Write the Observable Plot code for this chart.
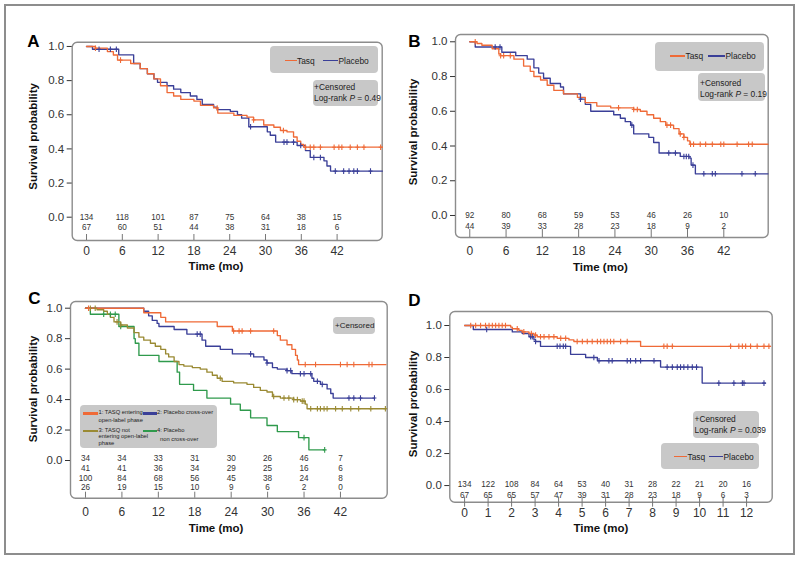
<!DOCTYPE html>
<html><head><meta charset="utf-8">
<script src="https://cdn.jsdelivr.net/npm/d3@7"></script>
<script src="https://cdn.jsdelivr.net/npm/@observablehq/plot@0.6"></script>
<style>
body{margin:0;background:#fff;font-family:"Liberation Sans",Arial,sans-serif;}
#wrap{position:relative;width:800px;height:562px;overflow:hidden;background:#fff;}
.outer{position:absolute;left:4px;top:4px;width:787px;height:547px;border:2px solid #8d8d8d;}
.box{position:absolute;background:#c8c8c8;border-radius:4px;}
.lt{position:absolute;color:#222;white-space:nowrap;}
.sw{position:absolute;}
svg{position:absolute;overflow:visible;}
</style></head><body><div id="wrap"><div class="outer"></div></div>
<script>
// ---------- shared ticks ----------
const monthTicks = [0, 6, 12, 18, 24, 30, 36, 42];
const monthTicksD = [0, 1, 2, 3, 4, 5, 6, 7, 8, 9, 10, 11, 12];
const yTicks = [0, 0.2, 0.4, 0.6, 0.8, 1.0];

// ---------- colours ----------
const cTasq = "#ef6a37", cPlac = "#3a3f98", cOlive = "#9a8a33", cGreen = "#2f9a4c";

// ---------- Panel A (time, survival) ----------
const aTasq = [[0,1],[1.5,0.99],[3.5,0.97],[4.5,0.95],[5.2,0.92],[7.4,0.9],[9,0.87],[10.2,0.84],[11.3,0.81],[12.4,0.77],[13.5,0.73],[14.6,0.71],[15.8,0.69],[18,0.68],[19.1,0.655],[21.3,0.64],[22,0.61],[24.7,0.596],[26.9,0.586],[28,0.57],[29.7,0.54],[31.4,0.527],[32.5,0.508],[33.6,0.5],[34.7,0.47],[35.3,0.445],[35.9,0.426],[36.4,0.41],[49.6,0.41]];
const aTasqCens = [1.5,5.7,21.9,28,33,36.7,37.5,38.1,39.2,41.5,42.3,42.8,44.2,45.4,46.5,49.3];
const aPlac = [[0,1],[1,0.984],[5.4,0.951],[7.9,0.9],[9,0.87],[10.2,0.84],[11.3,0.81],[11.9,0.79],[13.5,0.77],[14.6,0.75],[15.8,0.73],[17.4,0.71],[18.5,0.69],[19.4,0.66],[21.3,0.645],[21.9,0.63],[24.1,0.62],[25.3,0.6],[26,0.58],[27.2,0.53],[30.3,0.5],[30.8,0.48],[31.7,0.44],[35.3,0.42],[36.7,0.39],[37.5,0.35],[39.8,0.33],[40.3,0.3],[40.9,0.27],[49.6,0.27]];
const aPlacCens = [2.1,4,5,27.5,33.1,33.6,34.7,35.9,38.1,39.2,41.7,43.1,44,44.8,45.4,47.6];
const aRiskTasq = [134,118,101,87,75,64,38,15];
const aRiskPlac = [67,60,51,44,38,31,18,6];

// ---------- Panel B ----------
const bTasq = [[0,1],[1.2,0.99],[2,0.98],[3.7,0.96],[4.8,0.93],[5.1,0.92],[7.3,0.9],[8.9,0.86],[10,0.83],[10.6,0.8],[11.7,0.78],[12.8,0.75],[13.9,0.72],[15.5,0.7],[17.8,0.68],[19.1,0.65],[21,0.63],[23.3,0.62],[27.1,0.61],[28.2,0.6],[29.3,0.58],[30.4,0.56],[31.5,0.54],[32.4,0.52],[33.7,0.5],[34.6,0.47],[35.4,0.45],[36,0.43],[36.4,0.41],[49.3,0.41]];
const bTasqCens = [0.9,5.1,5.6,6.7,24.6,27.1,27.7,32.6,33.2,34.8,35.4,36.5,37,38.1,39,40.1,41.5,42,44.2,46.1,46.7];
const bPlac = [[0,1],[0.9,0.97],[5.3,0.94],[7.6,0.92],[9.5,0.9],[10.6,0.85],[11.4,0.82],[12.2,0.79],[13.3,0.76],[15,0.74],[15.5,0.7],[18.3,0.67],[19.1,0.64],[20,0.6],[23.8,0.58],[24.9,0.56],[25.7,0.54],[26.6,0.52],[27.1,0.47],[29.6,0.45],[30.4,0.42],[31.3,0.36],[34.8,0.34],[36.4,0.33],[36.6,0.29],[37.3,0.24],[49.3,0.24]];
const bPlacCens = [4.2,5,18.3,26.8,32.9,34,35.4,35.8,36.2,36.9,38.7,40.1,40.6,45,47.2];
const bRiskTasq = [92,80,68,59,53,46,26,10];
const bRiskPlac = [44,39,33,28,23,18,9,2];

// ---------- Panel C ----------
const c1 = [[0,1],[9.6,0.97],[12.4,0.94],[13.2,0.91],[21.7,0.88],[24.2,0.85],[31.6,0.82],[32.1,0.79],[33.2,0.76],[34,0.73],[34.6,0.69],[34.9,0.66],[35.1,0.63],[49.5,0.63]];
const c1Cens = [0.5,24.4,25.3,25.8,27.2,31,36.2,37.9,42,43.1,44.2,46.7,47.2];
const c2 = [[0,1],[9.6,0.98],[10.4,0.95],[11,0.92],[11.8,0.9],[12.1,0.88],[14.6,0.86],[16.7,0.83],[19.2,0.79],[19.8,0.75],[22.2,0.73],[24.2,0.7],[27.7,0.68],[29.4,0.66],[29.9,0.64],[30.8,0.61],[31.6,0.6],[33.2,0.59],[34,0.57],[37.3,0.54],[37.6,0.52],[38.7,0.5],[39.8,0.47],[40.4,0.44],[40.8,0.41],[47.6,0.41]];
const c2Cens = [18.4,18.9,27.2,29.9,33.2,33.8,35.4,36,37.1,38.2,39,43.4,44.2,45.3,47.6];
const c3 = [[0,1],[1.9,0.99],[3,0.98],[3.6,0.96],[4.1,0.94],[4.7,0.91],[5.8,0.89],[6.9,0.87],[8,0.84],[8.8,0.81],[9.6,0.79],[10.7,0.77],[11.5,0.75],[12.4,0.73],[13.2,0.7],[13.7,0.68],[14.6,0.65],[15.4,0.63],[16.2,0.62],[17.6,0.61],[18.9,0.6],[20,0.58],[20.9,0.56],[21.7,0.54],[22.5,0.52],[24.4,0.51],[26.6,0.5],[27.7,0.48],[28.8,0.46],[29.9,0.45],[30.8,0.42],[32.1,0.41],[34.3,0.4],[35.4,0.39],[36.2,0.37],[36.5,0.34],[49.5,0.34]];
const c3Cens = [0.8,1.6,5.2,5.8,22.2,31,32.7,33.5,34.3,34.9,35.7,36,37.1,38.2,38.7,39.3,39.8,41.2,42.3,43.7,45,47,49.4];
const c4 = [[0,1],[0.8,0.96],[5.5,0.88],[8,0.8],[8.2,0.77],[8.8,0.69],[12.1,0.65],[15.1,0.58],[15.5,0.5],[17.8,0.46],[20,0.41],[23.9,0.37],[25.5,0.33],[27.2,0.28],[29.9,0.23],[31.6,0.19],[35.1,0.15],[36.8,0.07],[39.4,0.07]];
const c4Cens = [3,4.1,4.9,5.8,36,39.4];
const cRisk1 = [34,34,33,31,30,26,46,7];
const cRisk2 = [41,41,36,34,29,25,16,6];
const cRisk3 = [100,84,68,56,45,38,24,8];
const cRisk4 = [26,19,15,10,9,6,2,0];

// ---------- Panel D ----------
const dTasq = [[0,1],[1.96,0.99],[2.03,0.98],[2.31,0.97],[2.45,0.96],[2.74,0.95],[2.95,0.94],[3.09,0.93],[3.94,0.92],[4.44,0.91],[4.65,0.9],[7.49,0.87],[13.02,0.87]];
const dTasqCens = [0.26,0.47,0.68,0.89,1.04,1.18,1.32,1.46,1.6,1.74,2.24,2.52,2.84,3.02,3.23,3.38,3.59,3.8,4.09,4.3,4.79,5.01,5.22,5.43,5.65,5.79,5.93,6.07,6.21,6.35,6.64,6.92,8.48,8.62,8.84,11.32,11.67,11.82,11.96,12.17,12.45,12.74,12.95];
const dPlac = [[0,1],[0.37,0.975],[2.03,0.96],[2.45,0.95],[2.74,0.93],[2.95,0.91],[3.02,0.9],[3.23,0.87],[4.51,0.82],[5.15,0.8],[5.65,0.78],[8.34,0.74],[10.11,0.64],[12.81,0.64]];
const dPlacCens = [0.94,2.81,2.88,3.02,3.94,4.06,4.2,4.3,5.5,5.72,6.14,6.28,6.92,7.06,7.28,7.49,8.06,8.62,8.84,9.05,9.19,9.33,9.5,9.69,9.87,10.82,11.46,11.82,11.89,12.74];
const dRiskTasq = [134,122,108,84,64,53,40,31,28,22,21,20,16];
const dRiskPlac = [67,65,65,57,47,39,31,28,23,18,9,6,3];

// ---------- helpers ----------
const plusSym = {draw(ctx, size) {
  const r = Math.sqrt(size / Math.PI);
  ctx.moveTo(0, -r); ctx.lineTo(0, r);
  ctx.moveTo(-r * 0.7, 0); ctx.lineTo(r * 0.7, 0);
}};
function survAt(steps, t) {
  let s = steps[0][1];
  for (const [tt, v] of steps) { if (tt <= t) s = v; else break; }
  return s;
}
const wrap = document.getElementById("wrap");

function kmPanel(cfg) {
  const yPx = (cfg.H - cfg.mt - cfg.mb) / (cfg.yDom[1] - cfg.yDom[0]);
  const marks = [
    Plot.frame({rx: 5, stroke: "#8c8c8c", strokeWidth: 1.4}),
    Plot.axisY({ticks: yTicks, tickFormat: d => d.toFixed(1), tickSize: 5, tickPadding: 3, fontSize: 11.5, label: null, color: "#333"}),
    Plot.axisX({ticks: cfg.xTicks, tickFormat: d => String(d), tickSize: 0, tickPadding: cfg.xPad, fontSize: 12, label: null, color: "#333"}),
    Plot.ruleX(cfg.xTicks, {x: d => d, y1: cfg.yDom[0] - cfg.tickBelow / yPx, y2: cfg.yDom[0] + cfg.tickAbove / yPx, stroke: "#777", strokeWidth: 1})
  ];
  for (const s of cfg.series) {
    marks.push(Plot.line(s.steps, {x: d => d[0], y: d => d[1], curve: "step-after", stroke: s.color, strokeWidth: 1.35}));
  }
  for (const s of cfg.series) {
    marks.push(Plot.dot(s.cens, {x: d => d, y: d => survAt(s.steps, d), symbol: plusSym, r: 2.8, stroke: s.color, fill: "none", strokeWidth: 1.1}));
  }
  cfg.risk.forEach((row, k) => {
    marks.push(Plot.text(row, {x: (d, i) => cfg.xTicks[i], y: 0, text: d => String(d), dy: cfg.riskDy[k], fontSize: 8.2, fill: "#333"}));
  });
  marks.push(Plot.text(["Time (mo)"], {x: cfg.timeX, frameAnchor: "bottom", dy: cfg.timeDy, fontWeight: "bold", fontSize: 11.5, fill: "#111"}));
  marks.push(Plot.text(["Survival probability"], {frameAnchor: "left", rotate: -90, dx: cfg.ylabDx, dy: cfg.ylabDy, textAnchor: "middle", fontWeight: "bold", fontSize: 11.5, fill: "#111"}));
  marks.push(Plot.text([cfg.letter], {frameAnchor: "top-left", dx: cfg.letDx, dy: cfg.letDy, textAnchor: "middle", fontWeight: "bold", fontSize: 17, fill: "#000"}));
  const svg = Plot.plot({
    width: cfg.W, height: cfg.H,
    marginLeft: cfg.ml, marginRight: cfg.mr, marginTop: cfg.mt, marginBottom: cfg.mb,
    x: {domain: cfg.xDom},
    y: {domain: cfg.yDom},
    style: {fontFamily: "'Liberation Sans', Arial, sans-serif", background: "transparent", overflow: "visible"},
    marks
  });
  svg.style.left = cfg.left + "px";
  svg.style.top = cfg.top + "px";
  wrap.appendChild(svg);
}

kmPanel({letter: "A", left: 0, top: 0, W: 400, H: 280, ml: 71.7, mr: 18.3, mt: 41.7, mb: 40,
  xDom: [-2.4, 49.56], yDom: [-0.1365, 1.025], xTicks: monthTicks, xPad: 6, tickBelow: 0, tickAbove: 6,
  series: [{steps: aPlac, cens: aPlacCens, color: cPlac}, {steps: aTasq, cens: aTasqCens, color: cTasq}],
  risk: [aRiskTasq, aRiskPlac], riskDy: [0, 10.6], timeX: 21.7, timeDy: 29,
  ylabDx: -39, ylabDy: -5, letDx: -38.7, letDy: -7.7});

kmPanel({letter: "B", left: 400, top: 0, W: 400, H: 280, ml: 55, mr: 32.3, mt: 34, mb: 43,
  xDom: [-2.36, 49.34], yDom: [-0.1267, 1.042], xTicks: monthTicks, xPad: 9.2, tickBelow: 0, tickAbove: 8,
  series: [{steps: bPlac, cens: bPlacCens, color: cPlac}, {steps: bTasq, cens: bTasqCens, color: cTasq}],
  risk: [bRiskTasq, bRiskPlac], riskDy: [0, 11], timeX: 21.6, timeDy: 33,
  ylabDx: -41.7, ylabDy: -4, letDx: -41, letDy: 0});

kmPanel({letter: "C", left: 0, top: 280, W: 400, H: 282, ml: 70, mr: 13.3, mt: 21, mb: 64.3,
  xDom: [-2.47, 49.7], yDom: [-0.2475, 1.044], xTicks: monthTicks, xPad: 9.5, tickBelow: 0, tickAbove: 6,
  series: [{steps: c4, cens: c4Cens, color: cGreen}, {steps: c3, cens: c3Cens, color: cOlive}, {steps: c2, cens: c2Cens, color: cPlac}, {steps: c1, cens: c1Cens, color: cTasq}],
  risk: [cRisk1, cRisk2, cRisk3, cRisk4], riskDy: [-2.4, 7.6, 17.4, 27.3], timeX: 21.5, timeDy: 33.3,
  ylabDx: -36.7, ylabDy: -11, letDx: -36, letDy: -10});

kmPanel({letter: "D", left: 400, top: 280, W: 400, H: 282, ml: 49.3, mr: 28.3, mt: 31, mb: 60.3,
  xDom: [-0.63, 13.09], yDom: [-0.104, 1.0875], xTicks: monthTicksD, xPad: 6.5, tickBelow: 5, tickAbove: 5,
  series: [{steps: dPlac, cens: dPlacCens, color: cPlac}, {steps: dTasq, cens: dTasqCens, color: cTasq}],
  risk: [dRiskTasq, dRiskPlac], riskDy: [-0.7, 10], timeX: 5.8, timeDy: 29.3,
  ylabDx: -36, ylabDy: -3, letDx: -35.3, letDy: -17.2});

// ---------- legend / annotation boxes (HTML overlay) ----------
function box(l, t, w, h) {
  const d = document.createElement("div"); d.className = "box";
  Object.assign(d.style, {left: l + "px", top: t + "px", width: w + "px", height: h + "px"});
  wrap.appendChild(d);
}
function txt(l, cy, html, size) {
  const d = document.createElement("div"); d.className = "lt";
  Object.assign(d.style, {left: l + "px", top: (cy - size * 0.6) + "px", fontSize: size + "px", lineHeight: (size * 1.2) + "px"});
  d.innerHTML = html; wrap.appendChild(d);
}
function sw(l, cy, w, color, th) {
  const d = document.createElement("div"); d.className = "sw";
  Object.assign(d.style, {left: l + "px", top: (cy - th / 2) + "px", width: w + "px", height: th + "px", background: color});
  wrap.appendChild(d);
}
const fs = 8.4;
// A
box(270, 46, 108, 27); sw(285, 60.7, 12, cTasq, 1.6); txt(297, 60.7, "Tasq", fs); sw(323, 60.7, 15, cPlac, 1.6); txt(338.5, 60.7, "Placebo", fs);
box(312.7, 80, 65, 26); txt(314, 86.7, "+Censored", fs); txt(314, 97.7, "Log-rank <i>P</i> = 0.49", fs);
// B
box(655, 41.7, 109, 29); sw(670, 56, 15, cTasq, 1.6); txt(685.5, 56, "Tasq", fs); sw(708.3, 56, 16.7, cPlac, 1.6); txt(725.5, 56, "Placebo", fs);
box(698.3, 73.3, 66.7, 27.4); txt(700, 82.7, "+Censored", fs); txt(700, 94, "Log-rank <i>P</i> = 0.19", fs);
// C
box(333.3, 316.7, 41.7, 17.6); txt(335, 325.3, "+Censored", 8);
box(80, 405, 136.7, 43.3);
const cfs = 5.8;
sw(83.3, 413.3, 15, cTasq, 2.6); txt(98.5, 412.6, "1: TASQ entering", cfs); txt(98.5, 420.2, "open-label phase", cfs);
sw(142.5, 413.3, 14, cPlac, 2.6); txt(157, 412.6, "2: Placebo cross-over", cfs);
sw(83.3, 431.2, 15, cOlive, 2.6); txt(98.5, 430.8, "3: TASQ not", cfs); txt(98.5, 436.6, "entering open-label", cfs); txt(98.5, 443.6, "phase", cfs);
sw(142.5, 431.2, 14, cGreen, 2.6); txt(157, 430.8, "4: Placebo", cfs); txt(160, 439.2, "non cross-over", cfs);
// D
box(693.3, 411, 66, 27.3); txt(694.5, 419, "+Censored", fs); txt(694.5, 430, "Log-rank <i>P</i> = 0.039", fs);
box(660.7, 443.3, 98.6, 25.7); sw(674, 456.7, 13.3, cTasq, 1.6); txt(687.5, 456.7, "Tasq", fs); sw(709.3, 456.7, 14, cPlac, 1.6); txt(723.5, 456.7, "Placebo", fs);
</script>
</body></html>
